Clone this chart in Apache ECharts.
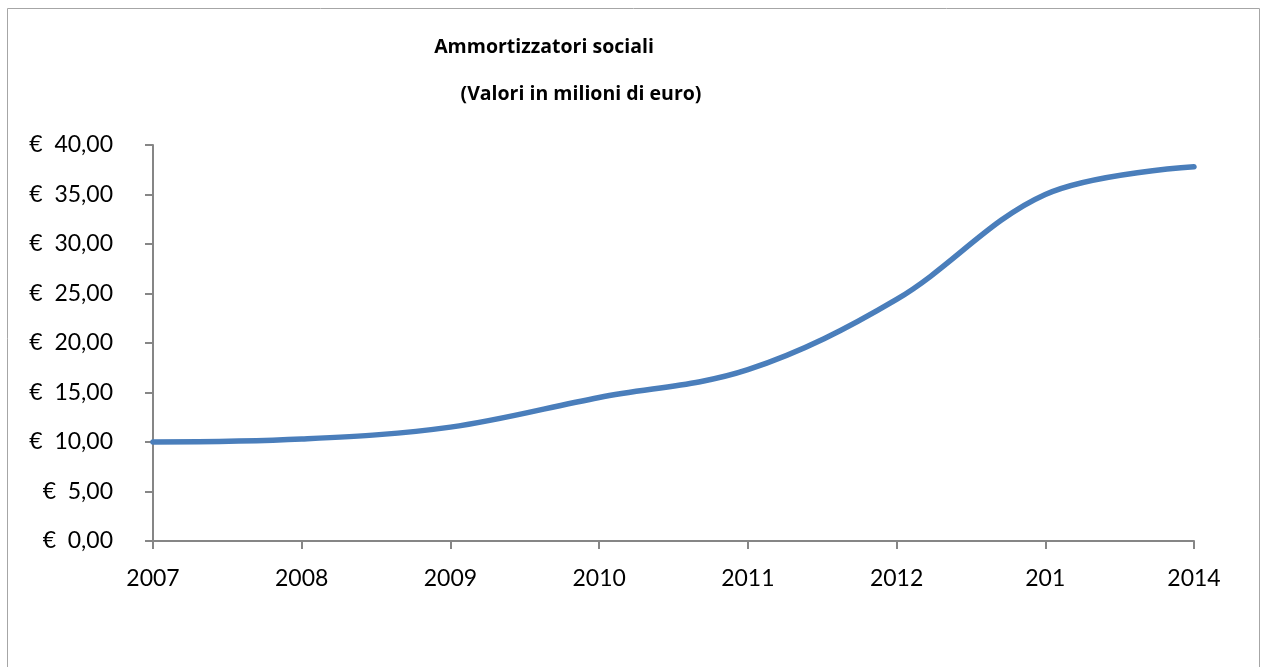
<!DOCTYPE html>
<html><head><meta charset="utf-8">
<script src="https://cdn.jsdelivr.net/npm/echarts@6/dist/echarts.min.js"></script>
<style>html,body{margin:0;padding:0;background:#fff}#c{width:1261px;height:667px}</style>
</head><body><div id="c"></div>
<script>
const categories = ['2007','2008','2009','2010','2011','2012','2013','2014'];
const categoryLabels = ['2007','2008','2009','2010','2011','2012','201','2014'];
const values = [10.0, 10.3, 11.5, 14.5, 17.3, 24.4, 35.0, 37.8];
const titleText = 'Ammortizzatori sociali';
const subtitleText = '(Valori in milioni di euro)';

const chart = echarts.init(document.getElementById('c'));
const font = 'Lato, "Open Sans", sans-serif';
const tfont = '"Open Sans", Lato, sans-serif';
chart.setOption({
  animation: false,
  graphic: [{type:'rect', shape:{x:7.5,y:8.5,width:1252,height:700}, style:{fill:'none', stroke:'#a6a6a6', lineWidth:1}, z:-1}],
  title: [
    {text: titleText, left: 539, top: 32, textAlign:'center', textStyle:{fontFamily:tfont, fontWeight:'bold', fontSize:19.5, color:'#000'}},
    {text: subtitleText, left: 576, top: 79, textAlign:'center', textStyle:{fontFamily:tfont, fontWeight:'bold', fontSize:19.5, color:'#000'}}
  ],
  grid: {left:153, right:67, top:145, bottom:126},
  xAxis: {
    type:'category', data: categories, boundaryGap:false,
    axisLine:{lineStyle:{color:'#868686', width:2}},
    axisTick:{show:true, length:8, lineStyle:{color:'#868686', width:2}},
    axisLabel:{fontFamily:font, fontSize:23, color:'#000', margin:26,
      formatter:(v, i)=>categoryLabels[i]}
  },
  yAxis: {
    type:'value', min:0, max:40, interval:5,
    axisLine:{show:true, lineStyle:{color:'#868686', width:2}},
    axisTick:{show:true, length:8, lineStyle:{color:'#868686', width:2}},
    splitLine:{show:false},
    axisLabel:{fontFamily:font, fontSize:23, color:'#000', margin:40,
      formatter:v=>'€\u00a0\u00a0' + v.toFixed(2).replace('.', ',')}
  },
  series: [{
    type:'line', data: values, smooth:0.35, symbol:'none',
    lineStyle:{color:'#4a7ebb', width:5.5, cap:'round'}
  }]
});
</script></body></html>
